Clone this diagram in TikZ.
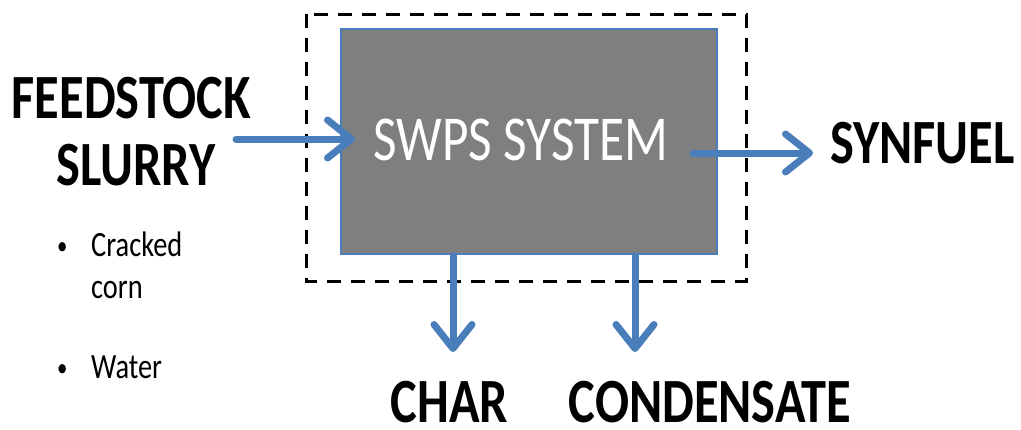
\documentclass[tikz,border=0pt]{standalone}
\usepackage{fontspec}
\setmainfont{Carlito}
\newfontfamily\calfont[FakeStretch=0.8]{Carlito}
\usetikzlibrary{arrows.meta}
\definecolor{arrblue}{HTML}{4A7EBB}
\definecolor{boxgray}{HTML}{7F7F7F}
\tikzset{
  flow/.style={draw=arrblue, line width=7pt, line cap=round,
    -{Straight Barb[length=24pt, width=38pt, round]}},
  bigtxt/.style={font=\calfont\bfseries\fontsize{63}{63}\selectfont, inner sep=0pt, anchor=base, text depth=0pt},
  smalltxt/.style={font=\calfont\fontsize{35.5}{35.5}\selectfont, inner sep=0pt, anchor=base west},
  bul/.style={font=\calfont\fontsize{26}{26}\selectfont, inner sep=0pt, anchor=base west},
}
\begin{document}
\begin{tikzpicture}[x=1pt,y=-1pt]
\useasboundingbox (0,0) rectangle (1021,429);
\draw[black, line width=3pt, dash pattern=on 14pt off 10pt] (306,14) rectangle (746,281);
\node[draw=arrblue, line width=1.5pt, fill=boxgray, minimum width=376pt, minimum height=225pt, inner sep=0pt, anchor=north west] (sys) at (340,28) {};
\node[font=\calfont\fontsize{64}{64}\selectfont, text=white, inner sep=0pt, anchor=base] (sl) at (521,160) {SWPS SYSTEM};
\node[bigtxt] (feed) at (131.5,118) {FEEDSTOCK};
\node[bigtxt] (slur) at (136,185) {SLURRY};
\node[bigtxt, anchor=base west] (syn) at (830,163) {SYNFUEL};
\node[bigtxt] (char) at (449.5,422) {CHAR};
\node[bigtxt] (cond) at (710,422) {CONDENSATE};
\node[bul] (b1) at (57,254) {\textbullet};
\node[smalltxt] (t1) at (91,256) {Cracked};
\node[smalltxt] (t2) at (91,298) {corn};
\node[bul] (b2) at (57,376) {\textbullet};
\node[smalltxt] (t3) at (91,378) {Water};
\coordinate (inS) at (236,139);
\coordinate (inE) at (355,139);
\coordinate (outS) at (693,153);
\coordinate (outE) at (813,153);
\coordinate (c1S) at (453,256);
\coordinate (c1E) at (453,352);
\coordinate (c2S) at (635,256);
\coordinate (c2E) at (635,352);
\draw[flow] (inS) -- (inE);
\draw[flow] (outS) -- (outE);
\draw[flow] (c1S) -- (c1E);
\draw[flow] (c2S) -- (c2E);
\end{tikzpicture}
\end{document}
